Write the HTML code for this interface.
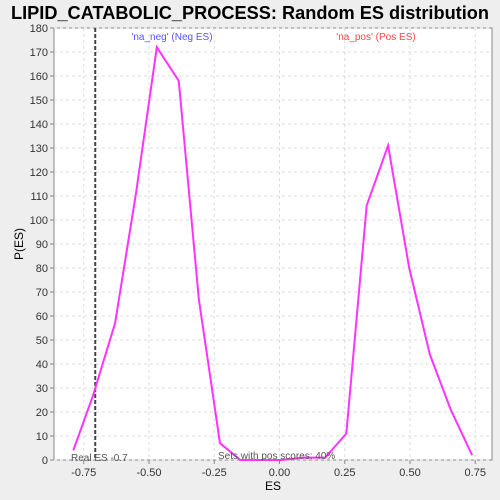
<!DOCTYPE html>
<html><head><meta charset="utf-8"><style>
body{margin:0;background:#eeeeee;}
svg{display:block;font-family:"Liberation Sans","DejaVu Sans",sans-serif;}
</style></head><body>
<svg id="chart" width="500" height="500">
<rect x="0" y="0" width="500" height="500" fill="#eeeeee"/>
<text x="250" y="19" text-anchor="middle" font-size="18" font-weight="bold" fill="#000" textLength="478" lengthAdjust="spacingAndGlyphs">LIPID_CATABOLIC_PROCESS: Random ES distribution</text>
<rect x="54" y="28" width="438" height="432" fill="#fff" stroke="#888"/>
<g id="grid"></g><g id="axes"></g><g id="marks"></g>
<text x="172" y="40" text-anchor="middle" font-size="10" fill="#5555ff">'na_neg' (Neg ES)</text>
<text x="376" y="40" text-anchor="middle" font-size="10" fill="#ff4444">'na_pos' (Pos ES)</text>
<text x="71" y="461" font-size="10" fill="#555">Real ES -0.7</text>
<text x="218" y="459" font-size="10" fill="#555">Sets with pos scores: 40%</text>
<text x="273" y="490" text-anchor="middle" font-size="12" fill="#000">ES</text>
<text x="23" y="244" text-anchor="middle" font-size="12" fill="#000" transform="rotate(-90 23 244)">P(ES)</text>
</svg>
<script>
const esValues=[-0.79,-0.714,-0.63,-0.55,-0.47,-0.386,-0.309,-0.228,-0.15,-0.07,0.01,0.09,0.175,0.256,0.334,0.416,0.497,0.576,0.656,0.738];
const densityValues=[4,27,57,111,172,158,67,7,0,0,0,1,1,11,106,131,80,44,21,2];
const realES=-0.706;
const xTicks=[-0.75,-0.5,-0.25,0,0.25,0.5,0.75];
const xTickLabels=["-0.75","-0.50","-0.25","0.00","0.25","0.50","0.75"];
const yTicks=[0,10,20,30,40,50,60,70,80,90,100,110,120,130,140,150,160,170,180];
const NS="http://www.w3.org/2000/svg";
function xS(v){return 279.5+v*261;}
function yS(v){return 460-v*2.4;}
function mk(tag,attrs,parent){const e=document.createElementNS(NS,tag);for(const k in attrs)e.setAttribute(k,attrs[k]);parent.appendChild(e);return e;}
const grid=document.getElementById('grid'),axes=document.getElementById('axes'),marks=document.getElementById('marks');
xTicks.forEach((t,i)=>{
 const g=mk('line',{x1:xS(t),x2:xS(t),y1:28,y2:460,stroke:'#ddd','stroke-dasharray':'3,3'},grid);
 
 
 const tk=mk('line',{x1:xS(t),x2:xS(t),y1:460,y2:464,stroke:'#888'},axes);
 
 
 const tx=mk('text',{x:xS(t),y:476,'text-anchor':'middle','font-size':'11',fill:'#333'},axes);
 tx.textContent=xTickLabels[i];
 
 
});
yTicks.forEach(t=>{
 const g=mk('line',{x1:54,x2:492,y1:yS(t),y2:yS(t),stroke:'#ddd','stroke-dasharray':'3,3'},grid);
 
 
 const tk=mk('line',{x1:50,x2:54,y1:yS(t),y2:yS(t),stroke:'#888'},axes);
 
 
 const tx=mk('text',{x:48,y:yS(t)+4,'text-anchor':'end','font-size':'11',fill:'#333'},axes);
 tx.textContent=String(t);
 
 
});
const rl=mk('line',{x1:xS(realES),x2:xS(realES),y1:28,y2:460,stroke:'#444','stroke-width':'2','stroke-dasharray':'4,2'},marks);


const pts=esValues.map((v,i)=>xS(v)+','+yS(densityValues[i])).join(' ');
const pl=mk('polyline',{points:pts,fill:'none',stroke:'#ff33ff','stroke-width':'2'},marks);


</script>
</body></html>
